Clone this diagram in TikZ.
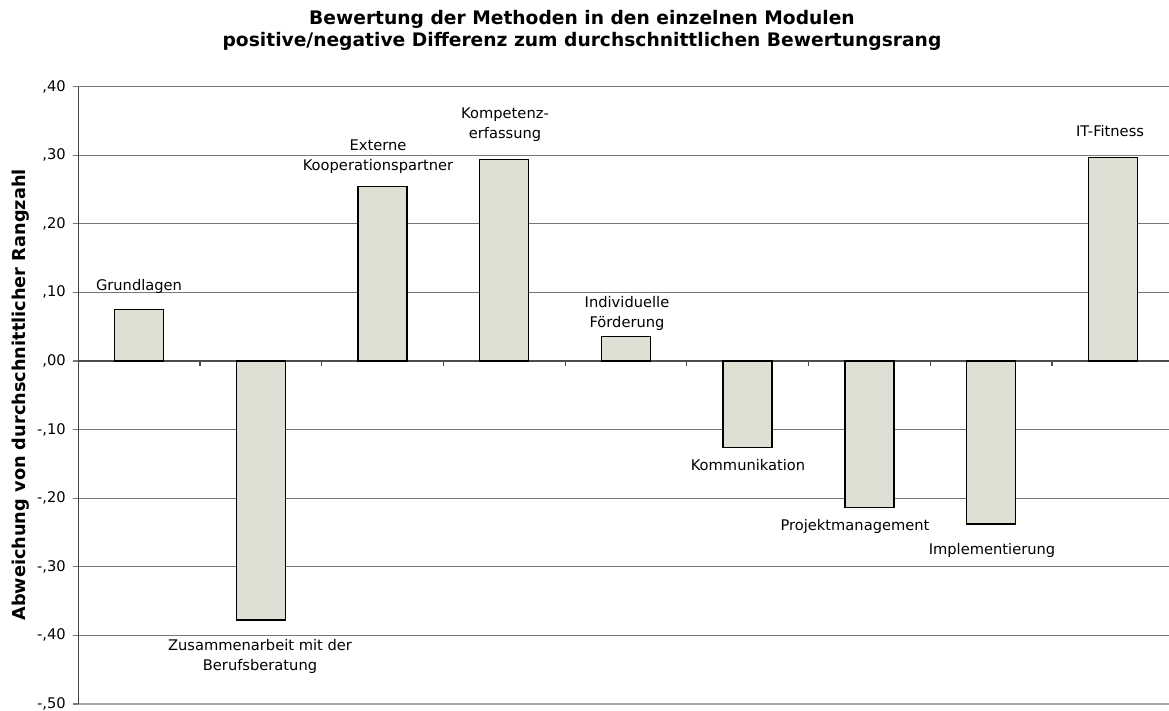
\documentclass[tikz,border=0pt]{standalone}
\usepackage{fontspec}
\setmainfont{DejaVu Sans}
\definecolor{barfill}{RGB}{223,224,211}
\definecolor{gridcol}{RGB}{120,120,120}
\definecolor{lightgrid}{RGB}{165,165,165}
\begin{document}
\begin{tikzpicture}[x=0.75pt,y=-0.75pt,
  gridline/.style={draw=gridcol, line width=0.8pt},
  barbox/.style={draw=black, fill=barfill, line width=1.1pt},
  lbl/.style={font=\fontsize{11}{15}\selectfont, align=center, inner sep=0pt},
  ticklbl/.style={font=\fontsize{11}{13}\selectfont, anchor=east, inner sep=0pt},
  ttl/.style={font=\fontsize{14}{16.5}\selectfont\bfseries, align=center, inner sep=0pt},
  axttl/.style={font=\fontsize{13.3}{15}\selectfont\bfseries, inner sep=0pt, rotate=90},
]
\useasboundingbox (0,0) rectangle (1169,710);
% grid lines and tick labels
\foreach \v/\t in {0.4/{,40},0.3/{,30},0.2/{,20},0.1/{,10},0/{,00},-0.1/{-,10},-0.2/{-,20},-0.3/{-,30},-0.4/{-,40},-0.5/{-,50}}{
  \draw[gridline] (78,{361-\v*686}) -- (1169,{361-\v*686});
  \draw[gridline] (72.5,{361-\v*686}) -- (78,{361-\v*686});
  \node[ticklbl] at (66,{361-\v*686}) {\t};
}
\draw[draw=lightgrid, line width=1pt] (78,704) -- (1169,704);
% zero line with category ticks
\draw[draw=black!70, line width=0.9pt] (78,361) coordinate (z0) -- (1169,361) coordinate (z1);
\foreach \k in {1,...,8}{
  \draw[draw=black!70, line width=0.9pt] ({78.3+\k*121.7},361) -- ({78.3+\k*121.7},365.5);
}
% y axis
\draw[draw=black!75, line width=1.1pt] (78.3,86.6) coordinate (ytop) -- (78.3,704) coordinate (ybot);
% bars
\foreach \i/\y in {1/309.3,2/620,3/186.7,4/159.3,5/336.7,6/447.7,7/507.7,8/524,9/157.3}{
  \draw[barbox] ({78.3+(\i-0.5)*121.7-24.5},361) rectangle ({78.3+(\i-0.5)*121.7+24.5},\y);
}
% bar labels
\node[lbl] (l1) at (139,286) {Grundlagen};
\node[lbl] (l2) at (260,656.5) {Zusammenarbeit mit der\\Berufsberatung};
\node[lbl] (l3) at (378,156.5) {Externe\\Kooperationspartner};
\node[lbl] (l4) at (505,125) {Kompetenz-\\erfassung};
\node[lbl] (l5) at (627,313) {Individuelle\\Förderung};
\node[lbl] (l6) at (748,465) {Kommunikation};
\node[lbl] (l7) at (855,526) {Projektmanagement};
\node[lbl] (l8) at (992,550) {Implementierung};
\node[lbl] (l9) at (1110,131) {IT-Fitness};
% titles
\node[ttl] (title) at (582,30) {Bewertung der Methoden in den einzelnen Modulen\\positive/negative Differenz zum durchschnittlichen Bewertungsrang};
\node[axttl] (ytitle) at (21,395) {Abweichung von durchschnittlicher Rangzahl};
\end{tikzpicture}
\end{document}
